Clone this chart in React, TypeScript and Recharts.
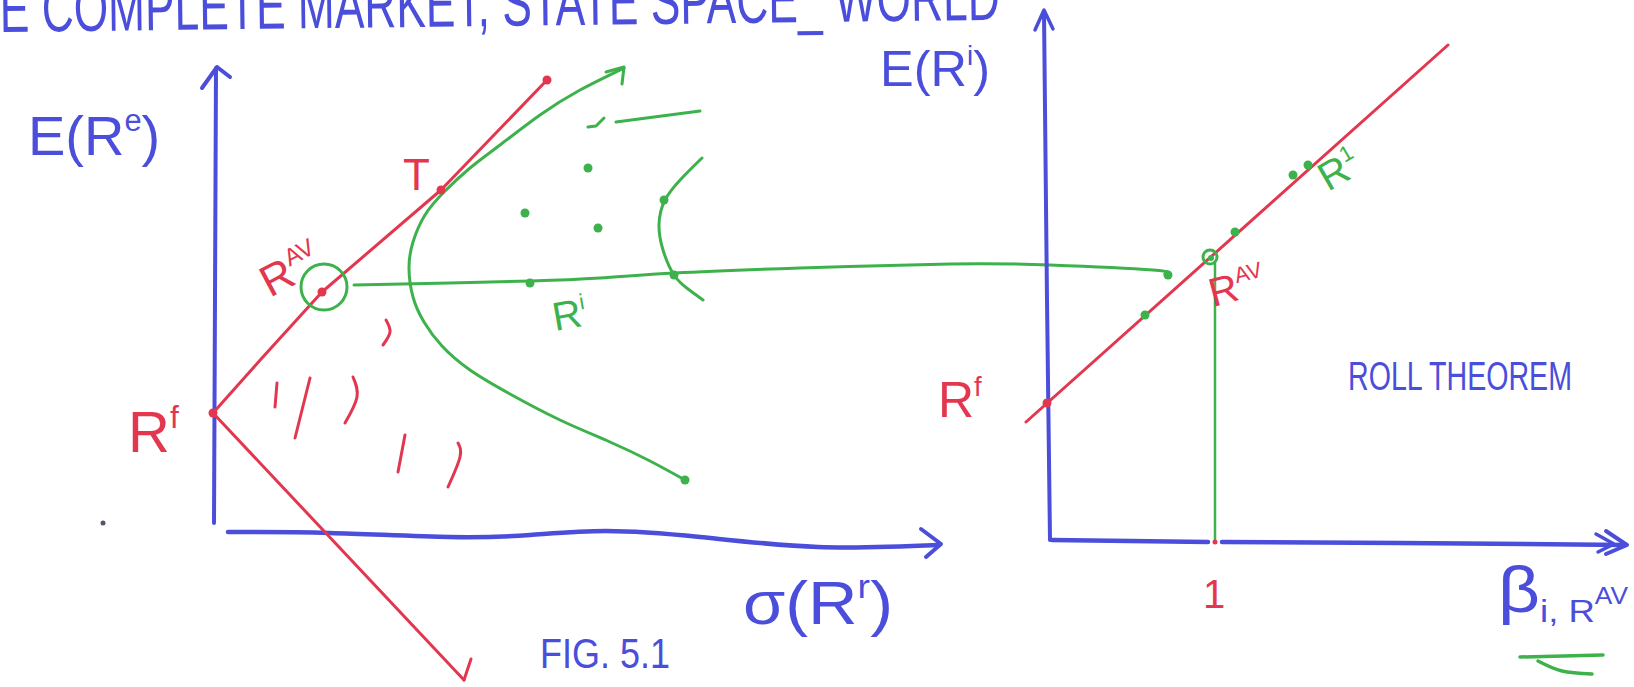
import React from 'react';
import { ComposedChart, Line, Scatter, XAxis, YAxis } from 'recharts';

type Pt = { x: number; y: number };
type Part = [string, 'n' | 'sup' | 'sub' | 'subsup'];
type Label = { id: string; x: number; y: number; parts: Part[] };

const W = 1634;
const H = 687;

const BLUE = '#4a4edb';
const RED = '#e2374f';
const GREEN = '#3db24c';
const FONT = "'Liberation Sans', 'DejaVu Sans', sans-serif";

const p = (x: number, y: number): Pt => ({ x, y });

// ---------- left panel: E(R) against sigma ----------
const sigmaAxisV: Pt[] = [p(214, 523), p(216, 68)];
const sigmaAxisVHead: Pt[] = [p(202, 88), p(217, 67), p(230, 77)];
const sigmaAxisH: Pt[] = [p(228, 532), p(330, 533), p(450, 537), p(530, 535), p(606, 531), p(700, 537), p(818, 547), p(939, 545)];
const sigmaAxisHHead: Pt[] = [p(921, 529), p(941, 544), p(926, 557)];

const capitalMarketLine: Pt[] = [p(213, 413), p(262, 358), p(322, 292), p(441, 190), p(547, 80)];
const lowerRay: Pt[] = [p(213, 413), p(464, 680)];
const lowerRayHead: Pt[] = [p(471, 659), p(464, 680)];

const frontier: Pt[] = [
  p(624, 68), p(580, 90), p(540, 115), p(500, 145), p(470, 168), p(444, 192), p(425, 215), p(413, 242),
  p(409, 268), p(413, 297), p(424, 322), p(442, 346), p(470, 370), p(510, 394), p(560, 420),
  p(610, 442), p(650, 461), p(685, 480),
];
const frontierHead: Pt[] = [p(606, 72), p(624, 67), p(622, 84)];
const innerFrontier: Pt[] = [p(702, 158), p(682, 178), p(665, 200), p(659, 225), p(663, 250), p(674, 275), p(688, 289), p(703, 300)];
const tickHook: Pt[] = [p(588, 127), p(596, 126), p(604, 118)];
const tickBar: Pt[] = [p(616, 122), p(700, 111)];

const hatch1: Pt[] = [p(277, 383), p(275, 407)];
const hatch2: Pt[] = [p(310, 378), p(295, 438)];
const hatch3: Pt[] = [p(353, 377), p(357, 397), p(345, 423)];
const hatch4: Pt[] = [p(405, 435), p(398, 472)];
const hatch5: Pt[] = [p(458, 443), p(460, 457), p(448, 487)];
const hatch6: Pt[] = [p(386, 320), p(390, 332), p(383, 345)];

// link from the circled market portfolio across to the beta plane
const connector: Pt[] = [p(354, 285), p(450, 283), p(531, 281), p(600, 278), p(675, 273), p(800, 268), p(950, 264), p(1050, 265), p(1153, 270), p(1165, 274)];

// ---------- right panel: E(R) against beta ----------
const betaAxisV: Pt[] = [p(1044, 12), p(1047, 300), p(1050, 540)];
const betaAxisVHead: Pt[] = [p(1035, 30), p(1044, 10), p(1053, 29)];
const betaAxisH1: Pt[] = [p(1052, 540), p(1208, 542)];
const betaAxisH2: Pt[] = [p(1222, 542), p(1400, 543), p(1625, 545)];
const betaAxisHHead: Pt[] = [p(1606, 531), p(1627, 545), p(1606, 554)];
const betaAxisHHead2: Pt[] = [p(1596, 534), p(1614, 544), p(1598, 552)];
const securityMarketLine: Pt[] = [p(1026, 422), p(1448, 45)];
const betaOneDrop: Pt[] = [p(1215, 263), p(1215, 540)];
const underline1: Pt[] = [p(1520, 657), p(1603, 655)];
const underline2: Pt[] = [p(1538, 661), p(1562, 671), p(1592, 674)];

// ---------- points ----------
const redPoints: Pt[] = [p(213, 413), p(322, 292), p(441, 190), p(547, 80), p(1047, 403)];
const redSmallPoints: Pt[] = [p(1215, 542)];
const greenPoints: Pt[] = [
  p(525, 213), p(588, 168), p(598, 228), p(530, 283), p(664, 200), p(674, 275), p(685, 480),
  p(1168, 275), p(1145, 315), p(1235, 232), p(1293, 175), p(1308, 165),
];
const inkPoints: Pt[] = [p(103, 523)];
const ringPoints: Pt[] = [p(324, 287)];
const marketPointRight: Pt[] = [p(1210, 257)];

// ---------- text ----------
const labels: Label[] = [
  { id: 'title', x: 0, y: 32, parts: [['E COMPLETE MARKET, STATE SPACE_ WORLD', 'n']] },
  { id: 'eRe', x: 28, y: 155, parts: [['E(R', 'n'], ['e', 'sup'], [')', 'n']] },
  { id: 'eRi', x: 880, y: 86, parts: [['E(R', 'n'], ['i', 'sup'], [')', 'n']] },
  { id: 'sigma', x: 743, y: 624, parts: [['σ(R', 'n'], ['r', 'sup'], [')', 'n']] },
  { id: 'fig', x: 540, y: 668, parts: [['FIG. 5.1', 'n']] },
  { id: 'roll', x: 1348, y: 390, parts: [['ROLL THEOREM', 'n']] },
  { id: 'beta', x: 1498, y: 612, parts: [['β', 'n'], ['i, R', 'sub'], ['AV', 'subsup']] },
  { id: 'rfL', x: 128, y: 452, parts: [['R', 'n'], ['f', 'sup']] },
  { id: 'T', x: 403, y: 190, parts: [['T', 'n']] },
  { id: 'ravL', x: 270, y: 298, parts: [['R', 'n'], ['AV', 'sup']] },
  { id: 'rfR', x: 938, y: 417, parts: [['R', 'n'], ['f', 'sup']] },
  { id: 'ravR', x: 1213, y: 307, parts: [['R', 'n'], ['AV', 'sup']] },
  { id: 'one', x: 1203, y: 608, parts: [['1', 'n']] },
  { id: 'r1L', x: 555, y: 331, parts: [['R', 'n'], ['i', 'sup']] },
  { id: 'r1R', x: 1328, y: 192, parts: [['R', 'n'], ['1', 'sup']] },
];

const labelStyle: Record<string, { color: string; size: number; rotate?: number; length?: number }> = {
  title: { color: BLUE, size: 66, length: 1000, rotate: -0.7 },
  eRe: { color: BLUE, size: 56 },
  eRi: { color: BLUE, size: 50, length: 110 },
  sigma: { color: BLUE, size: 62, length: 150 },
  fig: { color: BLUE, size: 42, length: 130 },
  roll: { color: BLUE, size: 40, length: 224 },
  beta: { color: BLUE, size: 64, length: 130 },
  rfL: { color: RED, size: 58 },
  T: { color: RED, size: 44 },
  ravL: { color: RED, size: 44, rotate: -28 },
  rfR: { color: RED, size: 50 },
  ravR: { color: RED, size: 40, rotate: -15 },
  one: { color: RED, size: 40 },
  r1L: { color: GREEN, size: 40, rotate: -10 },
  r1R: { color: GREEN, size: 40, rotate: -30 },
};

const SHIFT = { n: 0, sup: -0.42, sub: 0.16, subsup: -0.12 };
const SCALE = { n: 1, sup: 0.55, sub: 0.5, subsup: 0.36 };

const TextMark = (props: any) => {
  const { cx, cy, payload } = props;
  const st = labelStyle[payload.id];
  let cur = 0;
  const spans = (payload.parts as Part[]).map(([t, k], i) => {
    const off = SHIFT[k] * st.size;
    const dy = off - cur;
    cur = off;
    return (
      <tspan key={i} dy={dy} fontSize={SCALE[k] * st.size}>
        {t}
      </tspan>
    );
  });
  return (
    <text
      x={cx}
      y={cy}
      fill={st.color}
      fontFamily={FONT}
      fontSize={st.size}
      textLength={st.length}
      lengthAdjust={st.length ? 'spacingAndGlyphs' : undefined}
      transform={st.rotate ? `rotate(${st.rotate} ${cx} ${cy})` : undefined}
    >
      {spans}
    </text>
  );
};

const dotShape = (r: number, color: string) => (props: any) =>
  <circle cx={props.cx} cy={props.cy} r={r} fill={color} />;

const ringShape = (props: any) =>
  <circle cx={props.cx} cy={props.cy} r={23} fill="none" stroke={GREEN} strokeWidth={3} />;

const curlShape = (props: any) => (
  <g>
    <circle cx={props.cx} cy={props.cy} r={7} fill="none" stroke={GREEN} strokeWidth={3} />
    <circle cx={props.cx + 1} cy={props.cy + 1} r={3} fill={GREEN} />
  </g>
);

type Stroke = { key: string; data: Pt[]; color: string; width: number; curve?: 'linear' | 'natural' };

const strokes: Stroke[] = [
  { key: 'sAxV', data: sigmaAxisV, color: BLUE, width: 4 },
  { key: 'sAxVH', data: sigmaAxisVHead, color: BLUE, width: 4 },
  { key: 'sAxH', data: sigmaAxisH, color: BLUE, width: 4.5, curve: 'natural' },
  { key: 'sAxHH', data: sigmaAxisHHead, color: BLUE, width: 4 },
  { key: 'cml', data: capitalMarketLine, color: RED, width: 3 },
  { key: 'low', data: lowerRay, color: RED, width: 3 },
  { key: 'lowH', data: lowerRayHead, color: RED, width: 3 },
  { key: 'h1', data: hatch1, color: RED, width: 3 },
  { key: 'h2', data: hatch2, color: RED, width: 3 },
  { key: 'h3', data: hatch3, color: RED, width: 3, curve: 'natural' },
  { key: 'h4', data: hatch4, color: RED, width: 3 },
  { key: 'h5', data: hatch5, color: RED, width: 3, curve: 'natural' },
  { key: 'h6', data: hatch6, color: RED, width: 3, curve: 'natural' },
  { key: 'front', data: frontier, color: GREEN, width: 3, curve: 'natural' },
  { key: 'frontH', data: frontierHead, color: GREEN, width: 3 },
  { key: 'inner', data: innerFrontier, color: GREEN, width: 3, curve: 'natural' },
  { key: 'hook', data: tickHook, color: GREEN, width: 3 },
  { key: 'bar', data: tickBar, color: GREEN, width: 3 },
  { key: 'link', data: connector, color: GREEN, width: 3, curve: 'natural' },
  { key: 'bAxV', data: betaAxisV, color: BLUE, width: 4 },
  { key: 'bAxVH', data: betaAxisVHead, color: BLUE, width: 3.5 },
  { key: 'bAxH1', data: betaAxisH1, color: BLUE, width: 4.5 },
  { key: 'bAxH2', data: betaAxisH2, color: BLUE, width: 4.5 },
  { key: 'bAxHH', data: betaAxisHHead, color: BLUE, width: 4 },
  { key: 'bAxHH2', data: betaAxisHHead2, color: BLUE, width: 3.5 },
  { key: 'sml', data: securityMarketLine, color: RED, width: 3 },
  { key: 'drop', data: betaOneDrop, color: GREEN, width: 2.5 },
  { key: 'ul1', data: underline1, color: GREEN, width: 3.5 },
  { key: 'ul2', data: underline2, color: GREEN, width: 3.5, curve: 'natural' },
];

export default function App() {
  return (
    <div style={{ position: 'absolute', left: 0, top: 0, width: W, height: H, background: '#ffffff' }}>
      <ComposedChart width={W} height={H} margin={{ top: 0, right: 0, bottom: 0, left: 0 }}>
        <XAxis type="number" dataKey="x" domain={[0, W]} hide allowDataOverflow />
        <YAxis type="number" dataKey="y" domain={[0, H]} reversed hide allowDataOverflow />
        {strokes.map((s) => (
          <Line
            key={s.key}
            data={s.data}
            dataKey="y"
            type={s.curve ?? 'linear'}
            stroke={s.color}
            strokeWidth={s.width}
            strokeLinecap="round"
            strokeLinejoin="round"
            dot={false}
            activeDot={false}
            isAnimationActive={false}
          />
        ))}
        <Scatter data={ringPoints} shape={ringShape} isAnimationActive={false} />
        <Scatter data={redPoints} shape={dotShape(4.5, RED)} isAnimationActive={false} />
        <Scatter data={redSmallPoints} shape={dotShape(2.5, RED)} isAnimationActive={false} />
        <Scatter data={greenPoints} shape={dotShape(4.5, GREEN)} isAnimationActive={false} />
        <Scatter data={inkPoints} shape={dotShape(2.5, '#555566')} isAnimationActive={false} />
        <Scatter data={marketPointRight} shape={curlShape} isAnimationActive={false} />
        <Scatter data={labels} shape={TextMark} isAnimationActive={false} />
      </ComposedChart>
    </div>
  );
}
